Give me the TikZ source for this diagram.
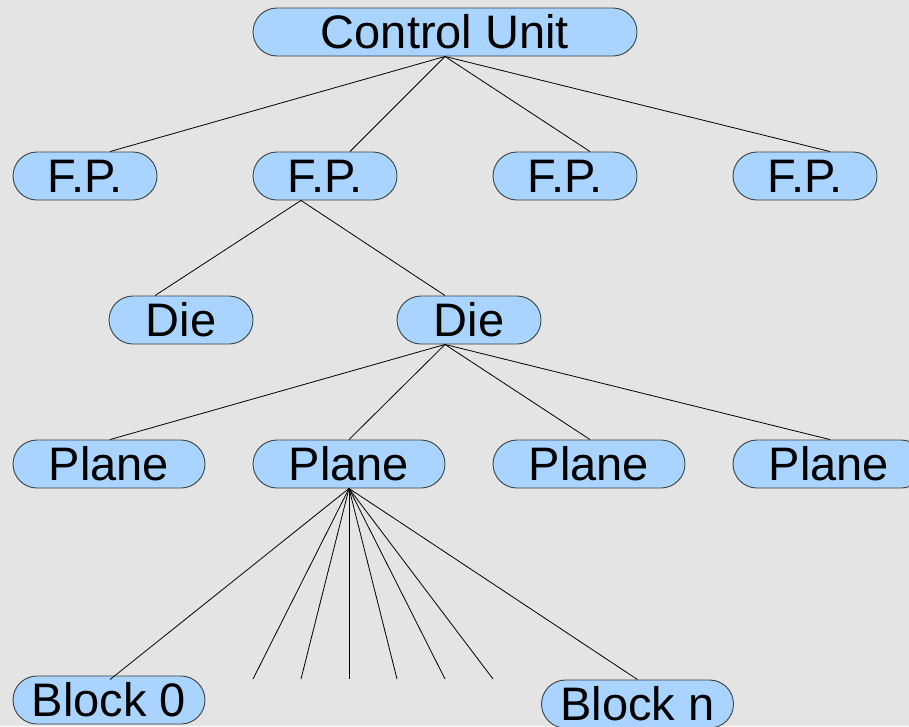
\documentclass[tikz,border=0pt]{standalone}
\usepackage{fontspec}
\setmainfont{Liberation Sans}
\usetikzlibrary{calc}
\definecolor{bgc}{HTML}{E4E4E4}
\definecolor{boxfill}{HTML}{A8D4FF}
\definecolor{boxline}{HTML}{404040}
\tikzset{
  unit/.style={draw=boxline, fill=boxfill, line width=0.9pt, rectangle,
    rounded corners=24pt, minimum height=48pt, inner sep=0pt,
    font=\fontsize{47}{54}\selectfont},
  wCU/.style={minimum width=384pt},
  wS/.style={minimum width=144pt},
  wL/.style={minimum width=192pt},
  link/.style={draw=black, line width=0.8pt}
}
\begin{document}
\begin{tikzpicture}[x=1pt,y=-1pt]
\fill[bgc] (0,0) rectangle (909,726);
\useasboundingbox (0,0) rectangle (909,726);
\clip (0,0) rectangle (909,726);
% nodes
\node[unit,wCU] (cu) at (445,32) {Control Unit};
\node[unit,wS] (fp1) at (85,176) {F.P.};
\node[unit,wS] (fp2) at (325,176) {F.P.};
\node[unit,wS] (fp3) at (565,176) {F.P.};
\node[unit,wS] (fp4) at (805,176) {F.P.};
\node[unit,wS] (die1) at (181,320) {Die};
\node[unit,wS] (die2) at (469,320) {Die};
\node[unit,wL] (pl1) at (109,464) {Plane};
\node[unit,wL] (pl2) at (349,464) {Plane};
\node[unit,wL] (pl3) at (589,464) {Plane};
\node[unit,wL] (pl4) at (829,464) {Plane};
\node[unit,wL] (b0) at (109,700) {Block 0};
\node[unit,wL] (bn) at (637.5,704) {Block n};
% free ends
\coordinate (f1) at (253,679);
\coordinate (f2) at (301,679);
\coordinate (f3) at (349,679);
\coordinate (f4) at (397,679);
\coordinate (f5) at (445,679);
\coordinate (f6) at (493,679);
% connectors
\draw[link] (cu.south) -- ($(fp1.north)+(25,0)$);
\draw[link] (cu.south) -- ($(fp2.north)+(25,0)$);
\draw[link] (cu.south) -- ($(fp3.north)+(25,0)$);
\draw[link] (cu.south) -- ($(fp4.north)+(25,0)$);
\draw[link] ($(fp2.south)+(-24,0)$) -- ($(die1.north)+(-26,0)$);
\draw[link] ($(fp2.south)+(-24,0)$) -- ($(die2.north)+(-24,0)$);
\draw[link] ($(die2.south)+(-24,0)$) -- ($(pl1.north)+(1,0)$);
\draw[link] ($(die2.south)+(-24,0)$) -- (pl2.north);
\draw[link] ($(die2.south)+(-24,0)$) -- ($(pl3.north)+(1,0)$);
\draw[link] ($(die2.south)+(-24,0)$) -- ($(pl4.north)+(1,0)$);
\draw[link] (pl2.south) -- ($(b0.north)+(1,4)$);
\draw[link] (pl2.south) -- (bn.north);
\foreach \f in {f1,f2,f3,f4,f5,f6} \draw[link] (pl2.south) -- (\f);
\end{tikzpicture}
\end{document}
